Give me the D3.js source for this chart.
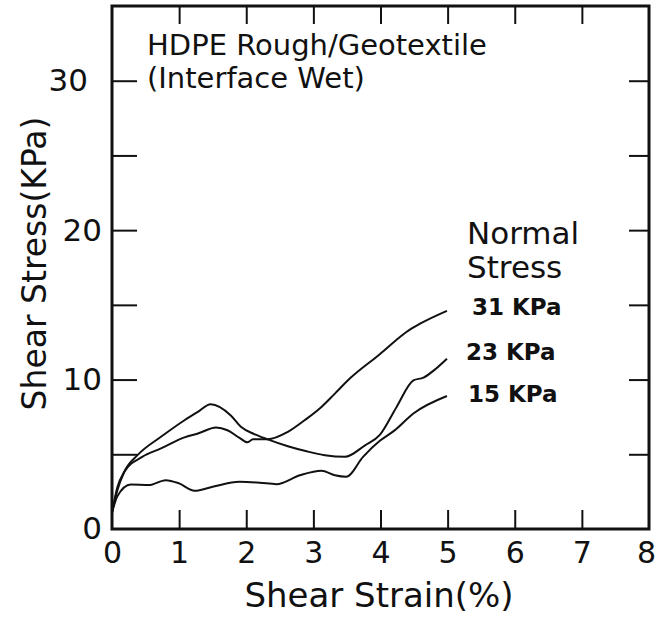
<!DOCTYPE html>
<html>
<head>
<meta charset="utf-8">
<script src="https://cdn.jsdelivr.net/npm/d3@7"></script>
<style>
  body { margin: 0; background: #fff; }
  svg text { font-family: 'DejaVu Sans', sans-serif; fill: #111; }
</style>
</head>
<body>
<div id="chartEl"></div>
<script>
// values (strain in %, stress in kPa)
const strain15 = [0, 0.08, 0.28, 0.55, 0.8, 1.0, 1.23, 1.5, 1.9, 2.2, 2.45, 2.8, 3.12, 3.32, 3.49, 3.74, 3.99, 4.21, 4.49, 4.99];
const stress15 = [1.1, 2.2, 2.98, 2.94, 3.27, 3.05, 2.56, 2.83, 3.16, 3.1, 3.0, 3.6, 3.9, 3.6, 3.5, 4.83, 5.9, 6.6, 7.73, 8.9];

const strain23 = [0, 0.08, 0.18, 0.38, 0.73, 1.08, 1.28, 1.47, 1.77, 1.92, 2.12, 2.32, 2.62, 2.9, 3.17, 3.47, 3.77, 3.99, 4.24, 4.49, 4.64, 4.79, 4.99];
const stress23 = [1.1, 2.6, 3.8, 4.94, 6.17, 7.28, 7.84, 8.35, 7.6, 6.84, 6.35, 6.0, 5.54, 5.2, 4.94, 4.83, 5.6, 6.3, 8.17, 9.95, 10.13, 10.6, 11.4];

const strain31 = [0, 0.08, 0.18, 0.45, 0.73, 1.08, 1.28, 1.55, 1.72, 1.9, 2.02, 2.1, 2.32, 2.62, 2.87, 3.12, 3.32, 3.55, 3.99, 4.29, 4.39, 4.59, 4.99];
const stress31 = [1.1, 2.8, 3.8, 4.83, 5.39, 6.13, 6.39, 6.79, 6.61, 6.1, 5.8, 6.0, 6.0, 6.5, 7.28, 8.17, 9.06, 10.1, 11.7, 12.85, 13.2, 13.74, 14.6];

const seriesLabels = ['31 KPa', '23 KPa', '15 KPa'];
const xTicks = [0, 1, 2, 3, 4, 5, 6, 7, 8];
const yTickLabels = [0, 10, 20, 30];
const yTicks = [5, 10, 15, 20, 25, 30];

const width = 656;
const height = 623;
const margin = {top: 6, right: 7, bottom: 94, left: 112};
const w = width - margin.left - margin.right;
const h = height - margin.top - margin.bottom;

const x = d3.scaleLinear().domain([0, 8]).range([0, w]);
const y = d3.scaleLinear().domain([0, 35]).range([h, 0]);

const svg = d3.select('#chartEl').append('svg')
  .attr('width', width)
  .attr('height', height)
  .append('g')
  .attr('transform', 'translate(' + margin.left + ',' + margin.top + ')');

// frame
svg.append('rect')
  .attr('width', w)
  .attr('height', h)
  .attr('fill', 'none')
  .attr('stroke', '#111')
  .attr('stroke-width', 3);

// bottom ticks + labels
svg.append('g')
  .attr('transform', 'translate(0,' + h + ')')
  .call(d3.axisBottom(x).tickValues(xTicks).tickSize(-19).tickPadding(13))
  .call(g => g.select('.domain').remove())
  .call(g => g.selectAll('line').attr('stroke', '#111').attr('stroke-width', 2).filter(d => d === 0 || d === 8).remove())
  .call(g => g.selectAll('text').attr('font-size', 30).attr('font-family', null)
    .attr('x', d => d === 8 ? -3 : 0));

// top ticks
svg.append('g')
  .call(d3.axisTop(x).tickValues(xTicks.slice(1, -1)).tickSize(-18).tickFormat(''))
  .call(g => g.select('.domain').remove())
  .call(g => g.selectAll('line').attr('stroke', '#111').attr('stroke-width', 2));

// left ticks
svg.append('g')
  .call(d3.axisLeft(y).tickValues(yTicks).tickSize(-25).tickFormat(''))
  .call(g => g.select('.domain').remove())
  .call(g => g.selectAll('line').attr('stroke', '#111').attr('stroke-width', 2));

// left labels
svg.append('g')
  .call(d3.axisLeft(y).tickValues(yTickLabels).tickSize(0).tickPadding(10))
  .call(g => g.select('.domain').remove())
  .call(g => g.selectAll('text').attr('font-size', 31).attr('font-family', null)
    .attr('x', d => d === 30 ? -24 : -10));

// right ticks
svg.append('g')
  .attr('transform', 'translate(' + w + ',0)')
  .call(d3.axisRight(y).tickValues(yTicks).tickSize(-20).tickFormat(''))
  .call(g => g.select('.domain').remove())
  .call(g => g.selectAll('line').attr('stroke', '#111').attr('stroke-width', 2));

// axis titles
svg.append('text')
  .attr('x', 267)
  .attr('y', h + 78)
  .attr('text-anchor', 'middle')
  .attr('font-size', 34)
  .text('Shear Strain(%)');

svg.append('text')
  .attr('transform', 'translate(' + (-66) + ',' + (h / 2 - 4) + ') rotate(-90)')
  .attr('text-anchor', 'middle')
  .attr('font-size', 33)
  .text('Shear Stress(KPa)');

// curves
const line = d3.line()
  .x(d => x(d[0]))
  .y(d => y(d[1]))
  .curve(d3.curveMonotoneX);

const series = [
  d3.zip(strain31, stress31),
  d3.zip(strain23, stress23),
  d3.zip(strain15, stress15)
];

svg.selectAll('.curve')
  .data(series)
  .enter().append('path')
  .attr('class', 'curve')
  .attr('d', line)
  .attr('fill', 'none')
  .attr('stroke', '#111')
  .attr('stroke-width', 2);

// annotations
svg.append('text')
  .attr('x', 35)
  .attr('y', 49)
  .attr('font-size', 29)
  .text('HDPE Rough/Geotextile');
svg.append('text')
  .attr('x', 35)
  .attr('y', 82)
  .attr('font-size', 29)
  .text('(Interface Wet)');

svg.append('text')
  .attr('x', 355)
  .attr('y', 238)
  .attr('font-size', 31)
  .text('Normal');
svg.append('text')
  .attr('x', 355)
  .attr('y', 272)
  .attr('font-size', 31)
  .text('Stress');

const labelY = [14.6, 11.4, 8.9];
svg.selectAll('.slabel')
  .data(seriesLabels)
  .enter().append('text')
  .attr('class', 'slabel')
  .attr('x', (d, i) => [360, 354, 356][i])
  .attr('y', (d, i) => y(labelY[i]) + [4, 1, 6][i])
  .attr('font-size', 23)
  .attr('font-weight', 'bold')
  .text(d => d);
</script>
</body>
</html>
